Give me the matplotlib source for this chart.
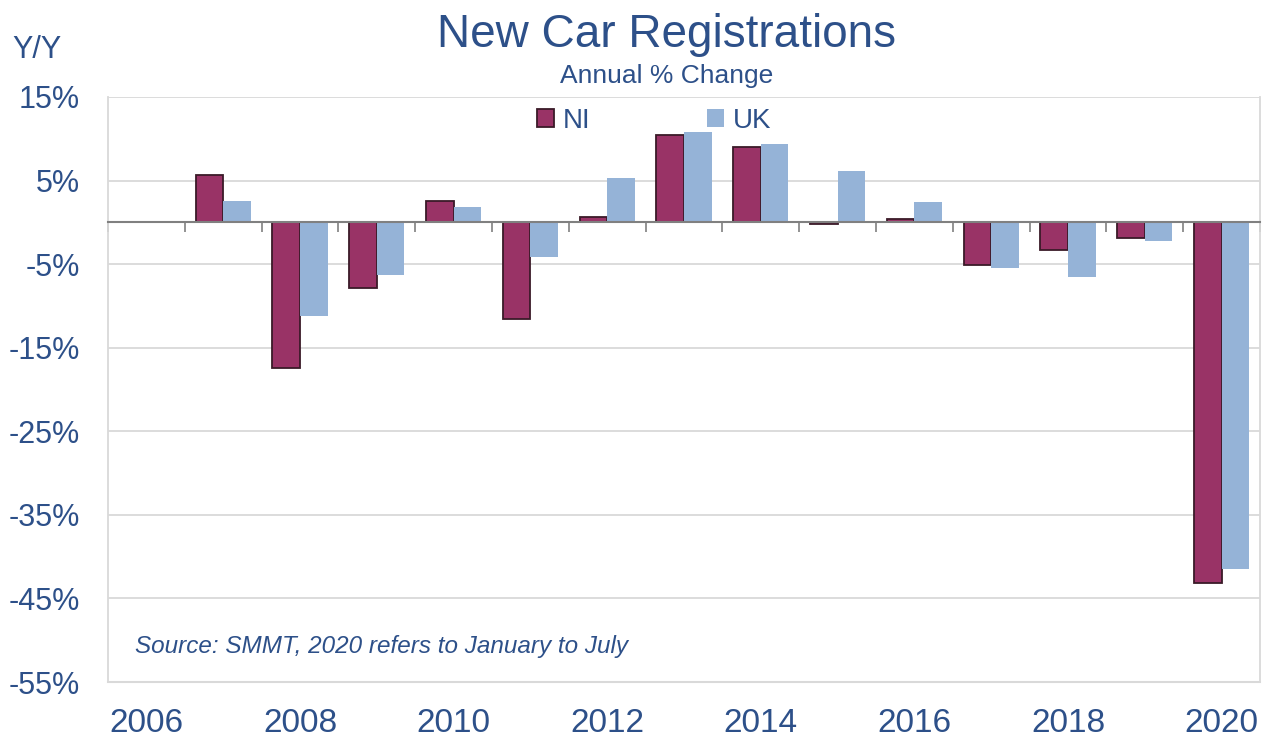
import matplotlib.pyplot as plt
import numpy as np

plt.rcParams['font.family'] = ['Liberation Sans', 'DejaVu Sans']

# data (annual % change, 2020 = January to July)
years = list(range(2006, 2021))
ni = [np.nan, 5.7, -17.4, -7.8, 2.5, -11.6, 0.7, 10.4, 9.0, -0.2, 0.4, -5.1, -3.3, -1.9, -43.2]
uk = [np.nan, 2.5, -11.2, -6.3, 1.8, -4.2, 5.3, 10.8, 9.4, 6.2, 2.4, -5.5, -6.5, -2.2, -41.5]
yticks = [-55, -45, -35, -25, -15, -5, 5, 15]

txt = '#2D5089'
ni_col = '#993366'
uk_col = '#95B3D7'
grid_col = '#D9D9D9'

fig = plt.figure(figsize=(12.68, 7.40), dpi=100)
ax = fig.add_axes([108/1268, 1 - 682/740, 1152/1268, (682 - 97)/740])

x = np.arange(len(years))
w = 0.36
ax.bar(x - w/2, ni, w, color=ni_col, edgecolor='#3A1A28', linewidth=1.3, label='NI', zorder=3)
ax.bar(x + w/2, uk, w, color=uk_col, linewidth=0, label='UK', zorder=3)

ax.set_xlim(-0.5, len(years) - 0.5)
ax.set_ylim(-55, 15)
ax.set_yticks(yticks, [f'{v}%' for v in yticks])
ax.tick_params(axis='y', length=0, pad=20, labelsize=22, labelcolor=txt)
ax.yaxis.grid(True, color=grid_col, linewidth=1.3)
ax.set_axisbelow(True)

# zero line with category boundary ticks
ax.spines['bottom'].set_position(('data', 0))
ax.spines['bottom'].set_color('#808080')
ax.spines['bottom'].set_linewidth(1.5)
ax.spines['bottom'].set_zorder(4)
ax.set_xticks(np.arange(-0.5, len(years), 1))
ax.set_xticklabels([])
ax.tick_params(axis='x', length=7, width=1.2, color='#808080', direction='out')

for s in ['left', 'right']:
    ax.spines[s].set_color(grid_col)
    ax.spines[s].set_linewidth(1.3)
ax.spines['top'].set_visible(False)

# year labels at bottom of the plot area
sec = ax.secondary_xaxis('bottom')
sec.set_xticks(x[::2], [str(y) for y in years[::2]])
sec.tick_params(length=0, pad=19, labelsize=24, labelcolor=txt)
sec.spines['bottom'].set_color(grid_col)
sec.spines['bottom'].set_linewidth(1.5)

leg = ax.legend(loc='center left', bbox_to_anchor=(537/1268, 1 - 121/740),
                bbox_transform=fig.transFigure, ncol=2, frameon=False,
                fontsize=20, handlelength=0.6, handleheight=0.6,
                handletextpad=0.32, columnspacing=4.2,
                borderpad=0, borderaxespad=0)
for t in leg.get_texts():
    t.set_color(txt)

fig.text(667/1268, 1 - 35/740, 'New Car Registrations', ha='center', va='center',
         fontsize=33, color=txt)
fig.text(667/1268, 1 - 76/740, 'Annual % Change', ha='center', va='center',
         fontsize=19, color=txt)
fig.text(12/1268, 1 - 50/740, 'Y/Y', ha='left', va='center', fontsize=22, color=txt)
ax.text(135/1268, 1 - 647/740, 'Source: SMMT, 2020 refers to January to July',
        transform=fig.transFigure, ha='left', va='center', fontsize=17.5,
        style='italic', color=txt)

fig.savefig('out.png', dpi=100)
